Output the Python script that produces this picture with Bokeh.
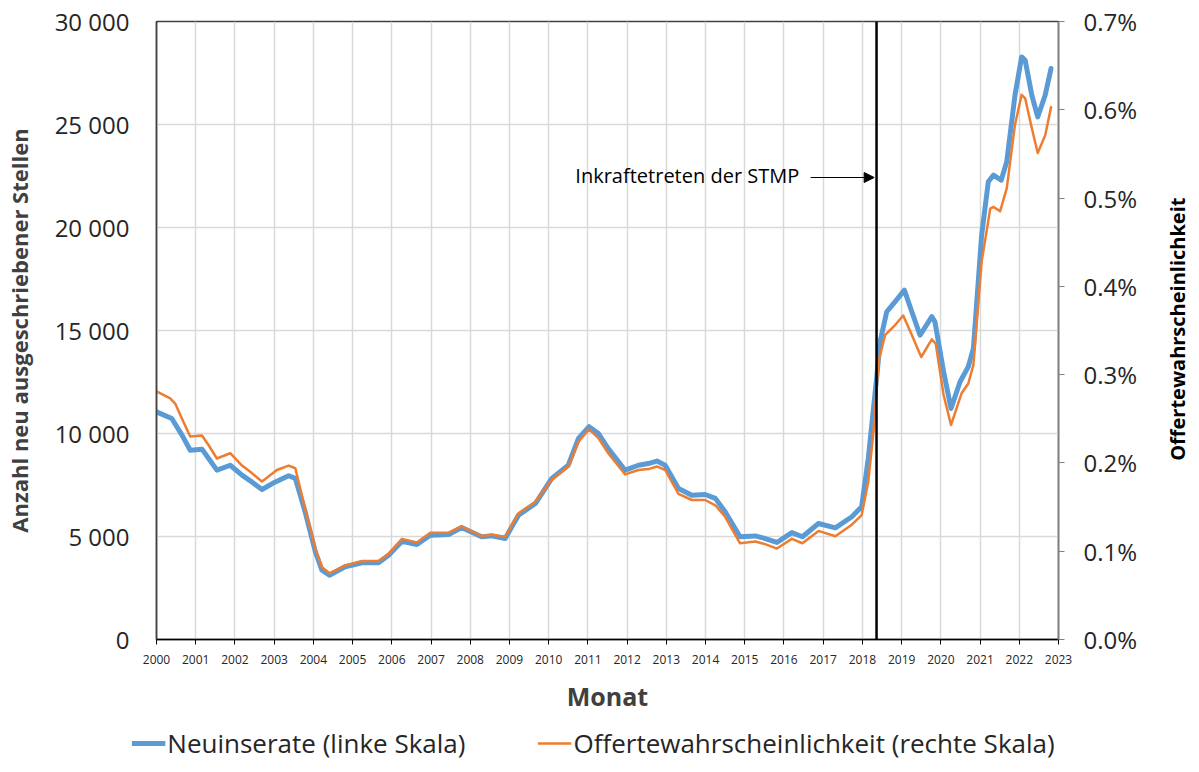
import math
from bokeh.plotting import figure
from bokeh.layouts import column, row
from bokeh.models import (Range1d, LinearAxis, FixedTicker, CustomJSTickFormatter, Legend, LegendItem,
                          Span, Label, Arrow, NormalHead, ColumnDataSource)
from bokeh.embed import file_html
from bokeh.resources import INLINE

# ---- data ----
years_blue = [2000.00, 2000.39, 2000.65, 2000.86, 2001.16, 2001.33, 2001.54, 2001.88, 2002.18, 2002.43,
              2002.69, 2003.03, 2003.37, 2003.54, 2003.79, 2004.05, 2004.22, 2004.41, 2004.81, 2005.24,
              2005.66, 2005.92, 2006.26, 2006.64, 2006.98, 2007.45, 2007.78, 2008.29, 2008.55, 2008.89,
              2009.23, 2009.66, 2010.08, 2010.50, 2010.76, 2011.03, 2011.27, 2011.52, 2011.95, 2012.29,
              2012.54, 2012.76, 2012.97, 2013.31, 2013.65, 2013.99, 2014.25, 2014.50, 2014.88, 2015.27,
              2015.52, 2015.82, 2016.20, 2016.47, 2016.88, 2017.31, 2017.73, 2017.98, 2018.15, 2018.37,
              2018.45, 2018.62, 2018.83, 2019.07, 2019.26, 2019.47, 2019.77, 2019.85, 2020.07, 2020.26,
              2020.49, 2020.70, 2020.83, 2021.04, 2021.21, 2021.34, 2021.54, 2021.68, 2021.89, 2022.06,
              2022.15, 2022.32, 2022.47, 2022.66, 2022.81]
neuinserate = [11050, 10730, 9920, 9190, 9240, 8790, 8220, 8460, 7980, 7650,
               7280, 7650, 7950, 7820, 6200, 4260, 3360, 3120, 3530, 3720,
               3720, 4090, 4770, 4610, 5060, 5100, 5440, 4990, 5030, 4900,
               6030, 6600, 7820, 8460, 9760, 10330, 10000, 9270, 8220, 8460,
               8540, 8660, 8460, 7330, 7000, 7040, 6850, 6200, 4990, 5030,
               4900, 4710, 5190, 4990, 5630, 5420, 5960, 6440, 8800, 12830,
               14450, 15910, 16390, 16960, 15910, 14770, 15670, 15420, 13000, 11210,
               12510, 13240, 14130, 19630, 22220, 22540, 22300, 23190, 26420, 28280,
               28120, 26420, 25370, 26420, 27720]

years_orange = [2000.00, 2000.35, 2000.48, 2000.65, 2000.86, 2001.16, 2001.33, 2001.54, 2001.88, 2002.18,
                2002.39, 2002.69, 2003.07, 2003.37, 2003.54, 2003.79, 2004.05, 2004.22, 2004.41, 2004.81,
                2005.24, 2005.66, 2005.92, 2006.26, 2006.64, 2006.98, 2007.45, 2007.78, 2008.29, 2008.55,
                2008.89, 2009.23, 2009.66, 2010.08, 2010.50, 2010.76, 2011.03, 2011.27, 2011.52, 2011.95,
                2012.29, 2012.54, 2012.76, 2012.97, 2013.31, 2013.65, 2013.99, 2014.25, 2014.50, 2014.88,
                2015.27, 2015.52, 2015.82, 2016.20, 2016.47, 2016.88, 2017.31, 2017.73, 2017.98, 2018.15,
                2018.29, 2018.41, 2018.58, 2018.79, 2019.04, 2019.26, 2019.50, 2019.77, 2019.87, 2020.07,
                2020.26, 2020.53, 2020.70, 2020.83, 2021.04, 2021.26, 2021.34, 2021.51, 2021.68, 2021.89,
                2022.06, 2022.15, 2022.32, 2022.47, 2022.66, 2022.81]
offerte_pct = [0.281, 0.273, 0.267, 0.250, 0.230, 0.231, 0.220, 0.205, 0.211, 0.197,
               0.190, 0.179, 0.192, 0.197, 0.194, 0.148, 0.103, 0.082, 0.075, 0.084,
               0.089, 0.089, 0.097, 0.114, 0.110, 0.121, 0.121, 0.128, 0.117, 0.119,
               0.116, 0.143, 0.156, 0.181, 0.196, 0.224, 0.238, 0.228, 0.211, 0.187,
               0.192, 0.193, 0.196, 0.192, 0.165, 0.158, 0.158, 0.152, 0.139, 0.109,
               0.111, 0.108, 0.103, 0.114, 0.109, 0.123, 0.117, 0.130, 0.141, 0.179,
               0.239, 0.315, 0.345, 0.354, 0.367, 0.345, 0.320, 0.340, 0.335, 0.277,
               0.243, 0.279, 0.290, 0.311, 0.428, 0.488, 0.490, 0.485, 0.511, 0.583,
               0.617, 0.613, 0.579, 0.551, 0.571, 0.603]

year_ticks = list(range(2000, 2024))
left_ticks = [0, 5000, 10000, 15000, 20000, 25000, 30000]
right_ticks = [0.0, 0.1, 0.2, 0.3, 0.4, 0.5, 0.6, 0.7]

series_names = ["Neuinserate (linke Skala)", "Offertewahrscheinlichkeit (rechte Skala)"]
left_title = "Anzahl neu ausgeschriebener Stellen"
right_title = "Offertewahrscheinlichkeit"
x_title = "Monat"
stmp_year = 2018.36
annotation_text = "Inkraftetreten der STMP"

FONT = "Open Sans"
BLUE = "#5B9BD5"
ORANGE = "#ED7D31"

TOP, FRAME_H, BOTTOM = 21, 618, 78
FIG_H = TOP + FRAME_H + BOTTOM

p = figure(frame_width=902, frame_height=FRAME_H,
           x_range=Range1d(2000, 2023), y_range=Range1d(0, 30000),
           min_border_left=152, min_border_right=100, min_border_top=TOP, min_border_bottom=BOTTOM,
           output_backend="svg", toolbar_location=None)
p.extra_y_ranges = {"pct": Range1d(0, 0.7)}

p.outline_line_color = "#404040"
p.outline_line_width = 1.5
p.background_fill_color = "white"
p.border_fill_color = "white"

# grid
p.xgrid.ticker = FixedTicker(ticks=year_ticks)
p.ygrid.ticker = FixedTicker(ticks=left_ticks)
p.xgrid.grid_line_color = "#d9d9d9"
p.ygrid.grid_line_color = "#d9d9d9"
p.xgrid.grid_line_width = 1.5
p.ygrid.grid_line_width = 1.5

# x axis
xa = p.xaxis[0]
xa.ticker = FixedTicker(ticks=year_ticks)
xa.axis_label = x_title
xa.axis_label_text_font = FONT
xa.axis_label_text_font_style = "bold"
xa.axis_label_text_font_size = "25px"
xa.axis_label_text_color = "#404040"
xa.axis_label_standoff = 12
xa.major_label_text_font = FONT
xa.major_label_text_font_size = "12px"
xa.major_label_text_color = "#262626"
xa.major_label_standoff = 10
xa.axis_line_color = "black"
xa.axis_line_width = 1.5
xa.major_tick_line_color = "black"
xa.major_tick_out = 5
xa.major_tick_in = 0
xa.minor_tick_line_color = None

# left y axis
ya = p.yaxis[0]
ya.ticker = FixedTicker(ticks=left_ticks)
ya.formatter = CustomJSTickFormatter(code="return tick.toFixed(0).replace(/\\B(?=(\\d{3})+(?!\\d))/g, ' ');")
ya.axis_label = left_title
ya.axis_label_text_font = FONT
ya.axis_label_text_font_style = "bold"
ya.axis_label_text_font_size = "22px"
ya.axis_label_text_color = "#404040"
ya.axis_label_standoff = 18
ya.major_label_text_font = FONT
ya.major_label_text_font_size = "24px"
ya.major_label_text_color = "#262626"
ya.major_label_standoff = 27
ya.axis_line_color = "#404040"
ya.axis_line_width = 1.5
ya.major_tick_line_color = None
ya.major_tick_out = 0
ya.minor_tick_line_color = None

# right axis
ra = LinearAxis(y_range_name="pct", ticker=FixedTicker(ticks=right_ticks),
                formatter=CustomJSTickFormatter(code="return tick.toFixed(1) + '%';"))
ra.major_label_text_font = FONT
ra.major_label_text_font_size = "24px"
ra.major_label_text_color = "#262626"
ra.major_label_standoff = 19
ra.axis_line_color = "#808080"
ra.axis_line_width = 1.5
ra.major_tick_line_color = "#808080"
ra.major_tick_out = 6
ra.major_tick_in = 0
ra.minor_tick_line_color = None
p.add_layout(ra, "right")

# lines
src_b = ColumnDataSource(dict(x=years_blue, y=neuinserate))
src_o = ColumnDataSource(dict(x=years_orange, y=offerte_pct))
p.line("x", "y", source=src_b, line_color=BLUE, line_width=5, line_join="round", line_cap="round")
p.line("x", "y", source=src_o, line_color=ORANGE, line_width=2.5, line_join="round",
       line_cap="round", y_range_name="pct")

# STMP marker
p.add_layout(Span(location=stmp_year, dimension="height", line_color="black", line_width=2.5))
p.add_layout(Label(x=2010.68, y=22524, text=annotation_text, text_font=FONT, text_font_size="20px",
                   text_baseline="middle", text_align="left", text_color="black"))
p.add_layout(Arrow(end=NormalHead(size=10, fill_color="black", line_color="black"),
                   x_start=2016.68, y_start=22427, x_end=2018.30, y_end=22427,
                   line_color="black", line_width=1.2))

# right-hand axis title strip (text reads bottom to top)
RW = 32
rf = figure(width=RW, height=FIG_H, x_range=Range1d(0, RW), y_range=Range1d(0, FIG_H),
            x_axis_type=None, y_axis_type=None, min_border=0,
            output_backend="svg", toolbar_location=None)
rf.outline_line_color = None
rf.xgrid.visible = False
rf.ygrid.visible = False
rf.add_layout(Label(x=19, y=FIG_H - (TOP + FRAME_H / 2) - 27, text=right_title, text_font=FONT,
                    text_font_style="bold", text_font_size="20px", text_color="black",
                    angle=math.pi / 2, text_align="center", text_baseline="middle"))

# legend strip below the chart
lf = figure(width=1186, height=52, x_range=Range1d(0, 1), y_range=Range1d(0, 1),
            x_axis_type=None, y_axis_type=None, min_border=0,
            output_backend="svg", toolbar_location=None)
lf.outline_line_color = None
lf.xgrid.visible = False
lf.ygrid.visible = False
lr_b = lf.line(x=[-2, -1], y=[-2, -2], line_color=BLUE, line_width=5)
lr_o = lf.line(x=[-2, -1], y=[-2, -2], line_color=ORANGE, line_width=2.5)
legend = Legend(items=[LegendItem(label=series_names[0], renderers=[lr_b]),
                       LegendItem(label=series_names[1], renderers=[lr_o])],
                orientation="horizontal", location="center")
legend.label_text_font = FONT
legend.label_text_font_size = "26px"
legend.label_text_color = "#262626"
legend.glyph_width = 34
legend.glyph_height = 20
legend.label_standoff = 2
legend.spacing = 72
legend.border_line_color = None
legend.background_fill_alpha = 0
legend.padding = 4
legend.margin = 0
lf.add_layout(legend, "center")

layout = column(row(p, rf, spacing=0), lf, spacing=0)
open("out.html", "w").write(file_html(layout, INLINE))
